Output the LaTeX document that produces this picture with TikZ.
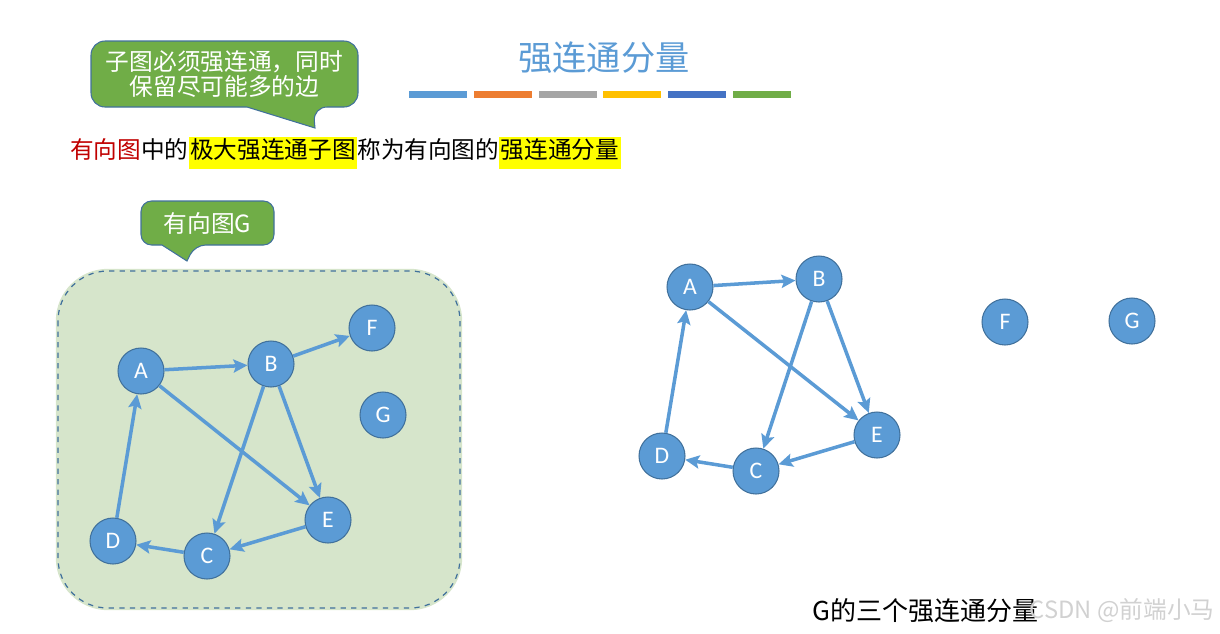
\documentclass[tikz,border=0pt]{standalone}
\usepackage{fontspec}
\setmainfont{Carlito}
\newfontfamily\cjk{Noto Sans CJK SC}
\usetikzlibrary{arrows.meta}
\definecolor{nodeblue}{HTML}{5B9BD5}
\definecolor{nodeedge}{HTML}{41719C}
\definecolor{notegreen}{HTML}{70AD47}
\definecolor{areagreen}{HTML}{D6E5CB}
\definecolor{keyred}{HTML}{C00000}
\definecolor{barorange}{HTML}{ED7D31}
\definecolor{bargray}{HTML}{A5A5A5}
\definecolor{bargold}{HTML}{FFC000}
\definecolor{bardark}{HTML}{4472C4}
\definecolor{hilite}{HTML}{FFFF00}
\newcommand\hlbox[1]{{\setlength\fboxsep{1pt}\colorbox{hilite}{\strut #1}}}

\begin{document}
\begin{tikzpicture}[
  x = 0.02cm, y = -0.02cm,
  vtx/.style = {circle, fill=nodeblue, draw=nodeedge, line width=0.6pt, minimum size=0.92cm,
                inner sep=0pt, text=white, font=\fontsize{13.5}{13.5}\selectfont},
  arr/.style = {-{Stealth[length=8pt, width=7.5pt, inset=1.5pt]}, draw=nodeblue, line width=2pt},
  notebody/.style = {fill=notegreen, draw=nodeedge, line width=0.6pt, rounded corners=8pt},
  notetext/.style = {text=white, align=center, inner sep=0pt, font=\cjk\fontsize{13.5}{14.2}\selectfont},
]
  \useasboundingbox (0,0) rectangle (1220,633);

  % heading
  \node[font=\cjk\fontsize{19.5}{20}\selectfont, text=nodeblue] (title) at (604,58) {强连通分量};
  \foreach \c [count=\i from 0] in {nodeblue, barorange, bargray, bargold, bardark, notegreen}
    \fill[\c] (409+64.8*\i,91) rectangle +(58,7);

  \draw[notebody] (224,41) -- (358,41) -- (358,107) -- (313,107) [sharp corners] -- (315,128)
    -- (247,107) [rounded corners=8pt] -- (91,107) -- (91,41) -- cycle;
  \node[notetext] (hint) at (224.5,74) {子图必须强连通，同时\\保留尽可能多的边};

  \node[anchor=west, inner sep=0pt, font=\cjk\fontsize{13.45}{16}\selectfont] (defn) at (70,153)
    {\textcolor{keyred}{有向图}中的\hlbox{极大强连通子图}称为有向图的\hlbox{强连通分量}};

  % directed graph G
  \draw[notebody, rounded corners=6pt] (207,201) -- (274,201) -- (274,245) -- (195,245) [sharp corners]
    -- (187,261) -- (162,245) [rounded corners=6pt] -- (141,245) -- (141,201) -- cycle;
  \node[notetext] (gname) at (207.5,223) {有向图G};

  \draw[draw=areagreen, fill=areagreen, line width=2.5pt, rounded corners=1cm] (58,271) rectangle (460,608);
  \draw[draw=nodeedge, dashed, line width=0.7pt, rounded corners=1cm] (58,271) rectangle (460,608);

  \node[vtx] (gA) at (141,371) {A};
  \node[vtx] (gB) at (271,364) {B};
  \node[vtx] (gF) at (372,328) {F};
  \node[vtx] (gG) at (383,415) {G};
  \node[vtx] (gD) at (113,541) {D};
  \node[vtx] (gC) at (207,556) {C};
  \node[vtx] (gE) at (328,520) {E};
  \foreach \u/\v in {A/B, B/F, A/E, B/C, B/E, E/C, C/D, D/A}
    \draw[arr] (g\u) -- (g\v);

  % its strongly connected components
  \node[vtx] (sA) at (690,287) {A};
  \node[vtx] (sB) at (819,279) {B};
  \node[vtx] (sF) at (1005,322) {F};
  \node[vtx] (sG) at (1132,321) {G};
  \node[vtx] (sD) at (662,456) {D};
  \node[vtx] (sC) at (756,471) {C};
  \node[vtx] (sE) at (877,435) {E};
  \foreach \u/\v in {A/B, A/E, B/C, B/E, E/C, C/D, D/A}
    \draw[arr] (s\u) -- (s\v);

  \node[anchor=west, inner sep=0pt, font=\cjk\fontsize{14.8}{16}\selectfont] (caption) at (812,611)
    {G的三个强连通分量};
  \node[anchor=east, inner sep=0pt, text=black!18, font=\cjk\fontsize{13.5}{16}\selectfont] (mark) at (1215,611)
    {CSDN @前端小马};
\end{tikzpicture}
\end{document}
